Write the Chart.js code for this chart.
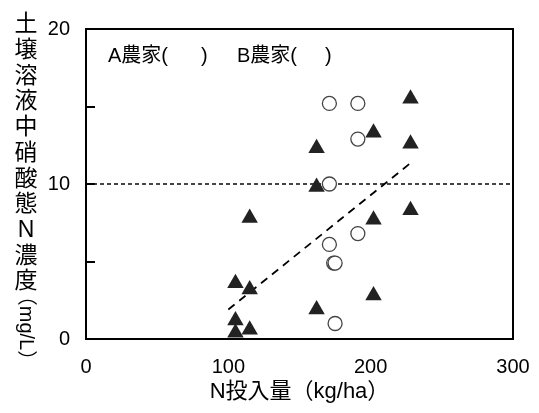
<!DOCTYPE html>
<html>
<head>
<meta charset="utf-8">
<script src="https://cdn.jsdelivr.net/npm/chart.js@4"></script>
<style>
body{margin:0;background:#fff}
#wrap{width:539px;height:413px}
</style>
</head>
<body>
<div id="wrap"><canvas id="myChart"></canvas></div>
<script>
// A farm (filled triangles) and B farm (open circles)
const aX = [105, 105, 105, 115, 115, 115, 162, 162, 162, 202, 202, 202, 228, 228, 228]
const aY = [0.4, 1.2, 3.6, 0.6, 3.2, 7.8, 1.9, 9.8, 12.3, 2.8, 7.7, 13.3, 8.3, 12.6, 15.5]
const bX = [171, 191, 191, 171, 171, 191, 174, 175, 175]
const bY = [15.2, 15.2, 12.9, 10.0, 6.1, 6.8, 4.9, 4.9, 1.0]
const trendX = [100, 230]
const trendY = [1.9, 11.5]
const refX = [0, 300]
const refY = [10, 10]
const yLabelTicks = [0, 10, 20]
const legendLabels = ["A農家(", ")", "B農家(", ")"]
const xTitle = "N投入量（kg/ha）"
const yTitle = "土壌溶液中硝酸態N濃度"
const yUnit = "（mg/L）"

const FONT = "'Liberation Sans', 'Noto Sans CJK JP', sans-serif"
const pts = (xs, ys) => xs.map((x, i) => ({x: x, y: ys[i]}))

const decor = {
    id: "decor",
    afterDatasetsDraw(chart) {
        const ctx = chart.ctx
        const a = chart.chartArea
        const y = chart.scales.y
        ctx.save()
        ctx.strokeStyle = "#000"
        ctx.lineWidth = 2
        ctx.strokeRect(a.left, a.top, a.right - a.left, a.bottom - a.top)
        // inner tick marks
        ;[5, 10, 15].forEach(v => {
            const py = Math.round(y.getPixelForValue(v))
            ctx.beginPath()
            ctx.moveTo(a.left, py)
            ctx.lineTo(a.left + 9, py)
            ctx.stroke()
        })
        ctx.fillStyle = "#000"
        // legend text
        ctx.font = "20px " + FONT
        ctx.textBaseline = "middle"
        ctx.textAlign = "left"
        const lx = [22, 115, 151, 239]
        legendLabels.forEach((t, i) => ctx.fillText(t, a.left + lx[i], 56))
        // x title
        ctx.font = "22px " + FONT
        ctx.textAlign = "center"
        ctx.fillText(xTitle, (a.left + a.right) / 2, 392)
        // y title, stacked vertically
        ctx.font = "23px " + FONT
        Array.from(yTitle).forEach((c, i) => ctx.fillText(c, 26, 25 + i * 25.7))
        ctx.translate(26, 328)
        ctx.rotate(Math.PI / 2)
        ctx.font = "20px " + FONT
        ctx.fillText(yUnit, 0, 0)
        ctx.restore()
    }
}

new Chart("myChart", {
    type: "scatter",
    data: {
        datasets: [{
            label: "B農家",
            data: pts(bX, bY),
            pointStyle: "circle",
            pointRadius: 7,
            pointBorderWidth: 1.3,
            borderColor: "#444",
            backgroundColor: "#fff",
            order: 0
        },
        {
            label: "A農家",
            data: pts(aX, aY),
            pointStyle: "triangle",
            pointRadius: 9.5,
            pointBorderWidth: 0,
            borderColor: "#222",
            backgroundColor: "#222",
            order: 1
        },
        {
            type: "line",
            data: pts(trendX, trendY),
            borderColor: "#000",
            borderWidth: 1.8,
            borderDash: [8, 6],
            pointRadius: 0,
            fill: false,
            order: 2
        },
        {
            type: "line",
            data: pts(refX, refY),
            borderColor: "#444",
            borderWidth: 2,
            borderDash: [4, 3],
            pointRadius: 0,
            fill: false,
            order: 3
        }]
    },
    options: {
        responsive: true,
        maintainAspectRatio: false,
        animation: false,
        layout: {padding: {top: 29, right: 26, left: 0, bottom: 0}},
        plugins: {legend: {display: false}, tooltip: {enabled: false}},
        scales: {
            x: {
                min: 0, max: 300,
                grid: {display: false},
                border: {display: false},
                ticks: {stepSize: 100, padding: 8, color: "#000", font: {family: FONT, size: 20}},
                afterFit: s => { s.height = 74 }
            },
            y: {
                min: 0, max: 20,
                grid: {display: false},
                border: {display: false},
                ticks: {
                    stepSize: 5, padding: 8, color: "#000", font: {family: FONT, size: 20},
                    callback: v => yLabelTicks.includes(v) ? v : ""
                },
                afterFit: s => { s.width = 86 }
            }
        }
    },
    plugins: [decor]
})
</script>
</body>
</html>
